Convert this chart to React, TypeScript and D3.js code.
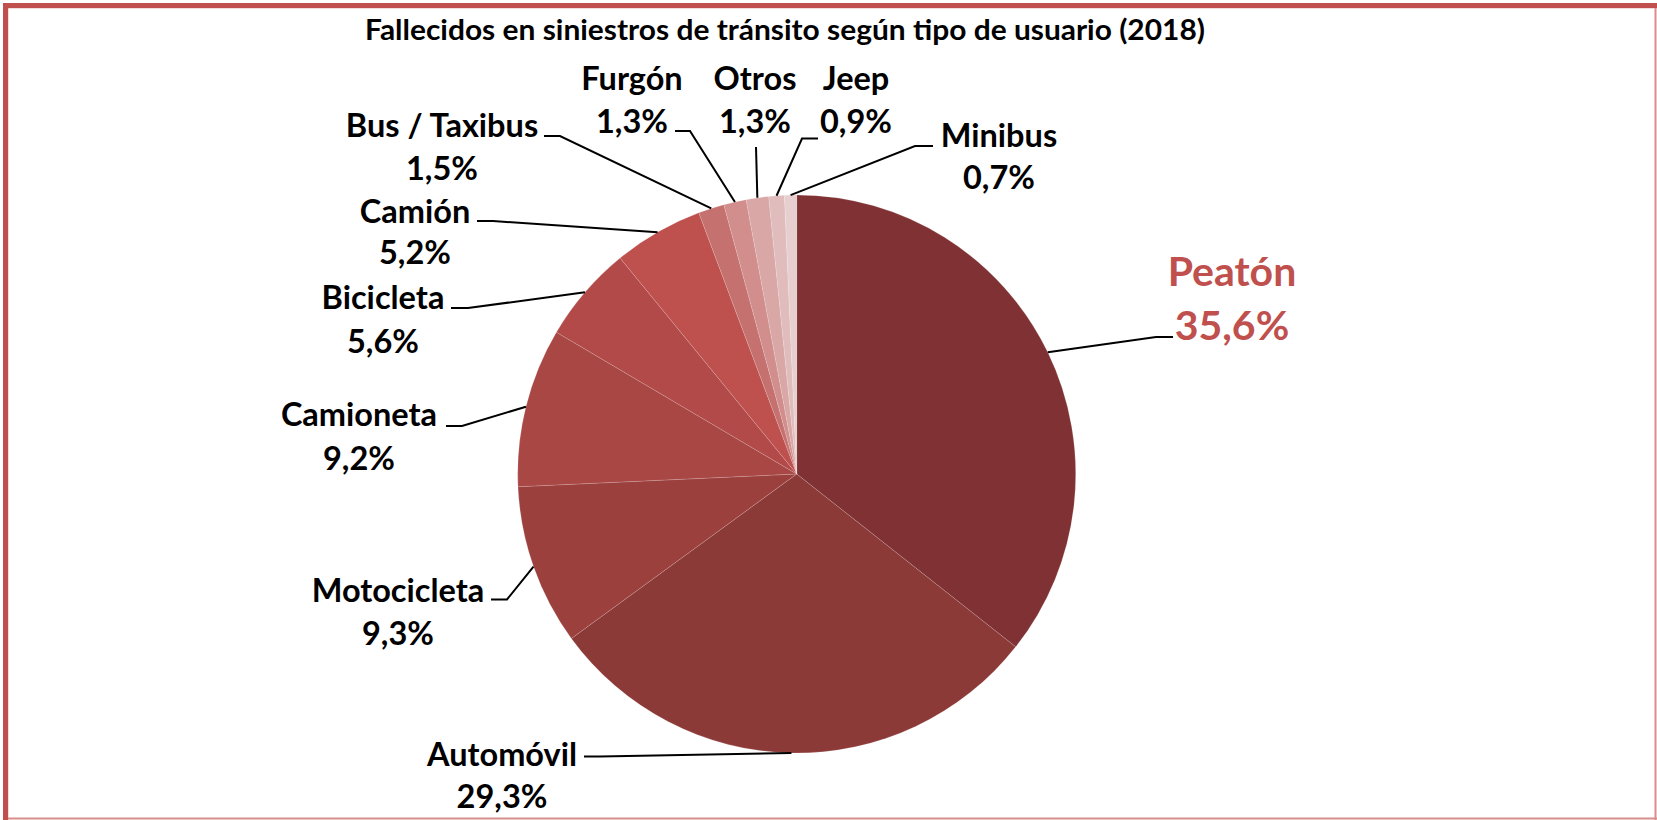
import React from "react";
import * as d3 from "d3";

// ---- Data ----
const categories: string[] = [
  "Peatón",
  "Automóvil",
  "Motocicleta",
  "Camioneta",
  "Bicicleta",
  "Camión",
  "Bus / Taxibus",
  "Furgón",
  "Otros",
  "Jeep",
  "Minibus",
];
const shares: number[] = [35.6, 29.3, 9.3, 9.2, 5.6, 5.2, 1.5, 1.3, 1.3, 0.9, 0.7];
const valueLabels: string[] = ["35,6%", "29,3%", "9,3%", "9,2%", "5,6%", "5,2%", "1,5%", "1,3%", "1,3%", "0,9%", "0,7%"];
const sliceColors: string[] = [
  "#7F3133",
  "#8C3A38",
  "#9C403E",
  "#A94745",
  "#B14A48",
  "#BE504E",
  "#C4716F",
  "#D18E8C",
  "#D8A7A6",
  "#E0BDBC",
  "#E8CFCF",
];
const title = "Fallecidos en siniestros de tránsito según tipo de usuario (2018)";

// ---- Layout (label placement, not data) ----
type LabelLayout = { x: number; y: number; gap: number; elbow: [number, number]; end: [number, number] };
const labelLayout: Record<string, LabelLayout> = {
  "Peatón": { x: 1232, y: 286, gap: 54, elbow: [1156, 337], end: [1173, 337] },
  "Automóvil": { x: 502, y: 766, gap: 42, elbow: [600, 756.5], end: [584, 756.5] },
  "Motocicleta": { x: 398, y: 602, gap: 43, elbow: [507, 599.5], end: [491, 599.5] },
  "Camioneta": { x: 359, y: 426, gap: 44, elbow: [462, 426], end: [446, 426] },
  "Bicicleta": { x: 383, y: 309, gap: 44, elbow: [468, 308], end: [451, 308] },
  "Camión": { x: 415, y: 223, gap: 41, elbow: [493, 221], end: [477, 221] },
  "Bus / Taxibus": { x: 442, y: 137, gap: 43, elbow: [560, 136], end: [544, 136] },
  "Furgón": { x: 632, y: 90, gap: 43, elbow: [690, 131], end: [675, 131] },
  "Otros": { x: 755, y: 90, gap: 43, elbow: [756, 147], end: [756, 147] },
  "Jeep": { x: 856, y: 90, gap: 43, elbow: [802, 138.5], end: [818, 138.5] },
  "Minibus": { x: 999, y: 147, gap: 42, elbow: [915, 146], end: [933, 146] },
};

const W = 1657;
const H = 820;
const CX = 796.7;
const CY = 474;
const R = 279;
const FONT = "Lato, 'Open Sans', sans-serif";

export default function App() {
  const pie = d3
    .pie<number>()
    .sort(null)
    .value((d) => d)
    .startAngle(0)
    .endAngle(2 * Math.PI);
  const arcs = pie(shares);
  const arc = d3.arc<d3.PieArcDatum<number>>().innerRadius(0).outerRadius(R);

  return (
    <div style={{ position: "absolute", left: 0, top: 0, width: W, height: H, background: "#fff" }}>
      <svg width={W} height={H} style={{ display: "block" }}>
        <rect x={0} y={0} width={W} height={H} fill="#fff" />
        {/* frame */}
        <rect x={3} y={3} width={W - 3} height={5.2} fill="#C0504D" />
        <rect x={3} y={3} width={5.2} height={H - 3} fill="#C0504D" />
        <line x1={W - 1.5} y1={8} x2={W - 1.5} y2={H} stroke="#D98E8C" strokeWidth={2} />
        <line x1={8} y1={H - 1.5} x2={W} y2={H - 1.5} stroke="#D98E8C" strokeWidth={2} />

        <text
          x={785}
          y={40}
          textAnchor="middle"
          fontFamily={FONT}
          fontWeight={700}
          fontSize={28}
          textLength={840}
          lengthAdjust="spacingAndGlyphs"
          fill="#000"
        >
          {title}
        </text>

        <g transform={`translate(${CX},${CY})`}>
          {arcs.map((a, i) => (
            <path
              key={categories[i]}
              d={arc(a) || ""}
              fill={sliceColors[i]}
              stroke="rgba(255,255,255,0.25)"
              strokeWidth={0.6}
            />
          ))}
        </g>

        {arcs.map((a, i) => {
          const name = categories[i];
          const L = labelLayout[name];
          const mid = (a.startAngle + a.endAngle) / 2;
          const ex = CX + R * Math.sin(mid);
          const ey = CY - R * Math.cos(mid);
          const pts: [number, number][] = [[ex, ey], L.elbow, L.end];
          const line = d3.line()(pts) || "";
          const isMain = i === 0;
          const fs = isMain ? 41 : 32.5;
          return (
            <g key={`lab-${name}`}>
              <path d={line} fill="none" stroke="#000" strokeWidth={2} />
              <text
                x={L.x}
                y={L.y}
                textAnchor="middle"
                fontFamily={FONT}
                fontWeight={700}
                fontSize={fs}
                fill={isMain ? "#C0504D" : "#000"}
              >
                {name}
              </text>
              <text
                x={L.x}
                y={L.y + L.gap}
                textAnchor="middle"
                fontFamily={FONT}
                fontWeight={700}
                fontSize={fs}
                fill={isMain ? "#C0504D" : "#000"}
              >
                {valueLabels[i]}
              </text>
            </g>
          );
        })}
      </svg>
    </div>
  );
}
